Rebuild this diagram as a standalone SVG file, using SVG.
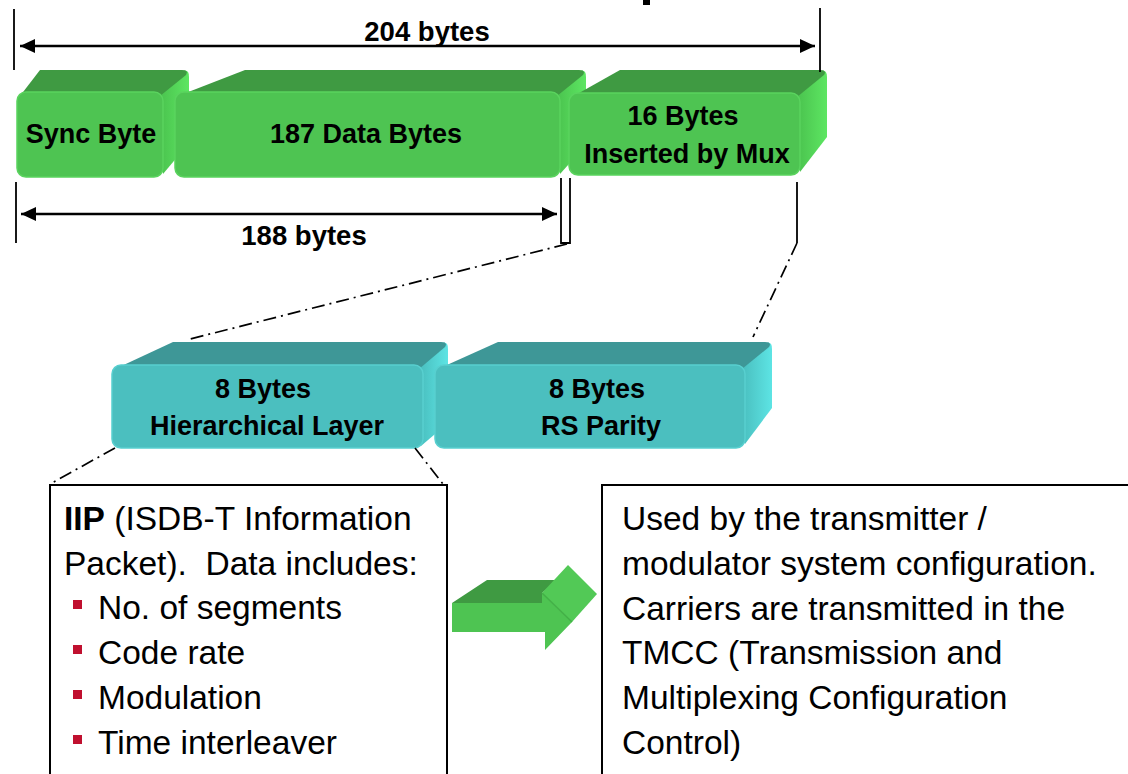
<svg xmlns="http://www.w3.org/2000/svg" width="1128" height="774" viewBox="0 0 1128 774">
  <style>
    .lbl { font-family: "Liberation Sans", Arial, sans-serif; font-weight: bold; font-size: 27px; fill: #000; text-anchor: middle; }
    .dim { font-family: "Liberation Sans", Arial, sans-serif; font-weight: bold; font-size: 27.5px; fill: #000; text-anchor: middle; }
    .body { font-family: "Liberation Sans", Arial, sans-serif; font-size: 33.5px; fill: #000; white-space: pre; }
    .g-front { fill: #4ec452; stroke: #5ad35e; stroke-width: 1.5; }
    .g-top { fill: #3f9a42; }
    .g-side { fill: url(#gSide); }
    .t-front { fill: #4bbfbf; stroke: #58cfcf; stroke-width: 1.5; }
    .t-top { fill: #3e9797; }
    .t-side { fill: url(#tSide); }
    .tick { stroke: #000; stroke-width: 1.8; fill: none; }
    .dimline { stroke: #000; stroke-width: 2.6; fill: none; }
    .dashdot { stroke: #000; stroke-width: 1.7; fill: none; stroke-dasharray: 13 5 2 5; }
    .frame { fill: #fff; stroke: #000; stroke-width: 2; }
    .bullet { fill: #c0102f; }
  </style>
  <defs>
    <linearGradient id="gSide" x1="0" y1="0" x2="1" y2="0">
      <stop offset="0" stop-color="#49c04d"/>
      <stop offset="1" stop-color="#5de662"/>
    </linearGradient>
    <linearGradient id="tSide" x1="0" y1="0" x2="1" y2="0">
      <stop offset="0" stop-color="#48bcbc"/>
      <stop offset="1" stop-color="#5de4e4"/>
    </linearGradient>
    <marker id="arrow" markerUnits="userSpaceOnUse" markerWidth="16" markerHeight="14" refX="15" refY="7" orient="auto-start-reverse">
      <path d="M0,0 L15,7 L0,14 Z" fill="#000"/>
    </marker>
  </defs>

  <!-- fragment of heading above the frame -->
  <rect x="643" y="0" width="7" height="5" fill="#000"/>

  <!-- packet blocks, back to front -->
  <g id="sync-byte">
    <path class="g-side" d="M158,96 L183,71 Q189,69 189,77 L189,143 L163,174 Z"/>
    <path class="g-top" d="M20,96 L40,70 L182,70 Q189,70 186,75 L160,96 Z"/>
    <rect class="g-front" x="17" y="92" width="146" height="85" rx="9"/>
    <text class="lbl" x="91" y="143">Sync Byte</text>
  </g>

  <g id="data-bytes">
    <path class="g-side" d="M555,96 L580,71 Q586,69 586,77 L586,145 L560,174 Z"/>
    <path class="g-top" d="M178,96 L245,70 L579,70 Q586,70 583,75 L557,96 Z"/>
    <rect class="g-front" x="175" y="92" width="385" height="85" rx="9"/>
    <text class="lbl" x="366" y="143">187 Data Bytes</text>
  </g>

  <g id="mux-bytes">
    <path class="g-side" d="M795,96 L820,71 Q827,69 827,77 L827,137 L800,172 Z"/>
    <path class="g-top" d="M572,97 L620,70 L820,70 Q827,70 824,75 L797,97 Z"/>
    <rect class="g-front" x="569" y="93" width="231" height="82" rx="9"/>
    <text class="lbl" x="683" y="125">16 Bytes</text>
    <text class="lbl" x="687" y="163">Inserted by Mux</text>
  </g>

  <g id="hierarchical-layer">
    <path class="t-side" d="M418,369 L442,343 Q448,341 448,349 L448,423 L421,446 Z"/>
    <path class="t-top" d="M115,369 L173,342 L441,342 Q448,342 445,347 L419,369 Z"/>
    <rect class="t-front" x="112" y="365" width="311" height="83" rx="9"/>
    <text class="lbl" x="263" y="398">8 Bytes</text>
    <text class="lbl" x="267" y="435">Hierarchical Layer</text>
  </g>

  <g id="rs-parity">
    <path class="t-side" d="M740,369 L766,343 Q772,341 772,349 L772,408 L745,444 Z"/>
    <path class="t-top" d="M438,369 L498,342 L765,342 Q772,342 769,347 L742,369 Z"/>
    <rect class="t-front" x="435" y="365" width="310" height="83" rx="9"/>
    <text class="lbl" x="597" y="398">8 Bytes</text>
    <text class="lbl" x="601" y="435">RS Parity</text>
  </g>

  <!-- dimension lines and zoom guides -->
  <g id="connectors">
    <line class="tick" x1="14" y1="9" x2="14" y2="70"/>
    <line class="tick" x1="820" y1="8" x2="820" y2="72"/>
    <line class="dimline" x1="20" y1="46" x2="815" y2="46" marker-start="url(#arrow)" marker-end="url(#arrow)"/>

    <line class="tick" x1="16" y1="182" x2="16" y2="243"/>
    <path class="tick" d="M561,178 V243 H570 V178"/>
    <line class="dimline" x1="21" y1="214" x2="557" y2="214" marker-start="url(#arrow)" marker-end="url(#arrow)"/>
    <line class="tick" x1="797" y1="182" x2="797" y2="243"/>

    <line class="dashdot" x1="567" y1="244" x2="190" y2="339"/>
    <line class="dashdot" x1="797" y1="243" x2="753" y2="337"/>
    <line class="dashdot" x1="115" y1="448" x2="50" y2="484"/>
    <line class="dashdot" x1="415" y1="448" x2="443" y2="484"/>
  </g>
  <text class="dim" x="427" y="41">204 bytes</text>
  <text class="dim" x="304" y="245">188 bytes</text>

  <!-- IIP description -->
  <g id="iip-box">
    <rect class="frame" x="50" y="485" width="397" height="300"/>
    <text class="body" x="64" y="530"><tspan font-weight="bold">IIP</tspan> (ISDB-T Information</text>
    <text class="body" x="64" y="575">Packet).  Data includes:</text>
    <rect class="bullet" x="73" y="600" width="9" height="9"/>
    <text class="body" x="98" y="619">No. of segments</text>
    <rect class="bullet" x="73" y="645" width="9" height="9"/>
    <text class="body" x="98" y="664">Code rate</text>
    <rect class="bullet" x="73" y="690" width="9" height="9"/>
    <text class="body" x="98" y="709">Modulation</text>
    <rect class="bullet" x="73" y="735" width="9" height="9"/>
    <text class="body" x="98" y="754">Time interleaver</text>
  </g>

  <!-- block arrow -->
  <g id="block-arrow">
    <path fill="#3f9a42" d="M452,603 L487,580 L557,580 L542,593 L542,603 Z"/>
    <path fill="#52c956" d="M542,593 L568,565 L597,594 L572,622 Z"/>
    <path fill="#4ec452" d="M452,603 L542,603 L542,593 L572,622 L545,650 L545,632 L452,632 Z"/>
    <line x1="542" y1="593" x2="572" y2="622" stroke="#43b047" stroke-width="1.5"/>
  </g>

  <!-- TMCC description -->
  <g id="tmcc-box">
    <rect class="frame" x="602" y="485" width="540" height="300"/>
    <text class="body" x="622" y="530">Used by the transmitter /</text>
    <text class="body" x="622" y="575">modulator system configuration.</text>
    <text class="body" x="622" y="620">Carriers are transmitted in the</text>
    <text class="body" x="622" y="664">TMCC (Transmission and</text>
    <text class="body" x="622" y="709">Multiplexing Configuration</text>
    <text class="body" x="622" y="754">Control)</text>
  </g>
</svg>
